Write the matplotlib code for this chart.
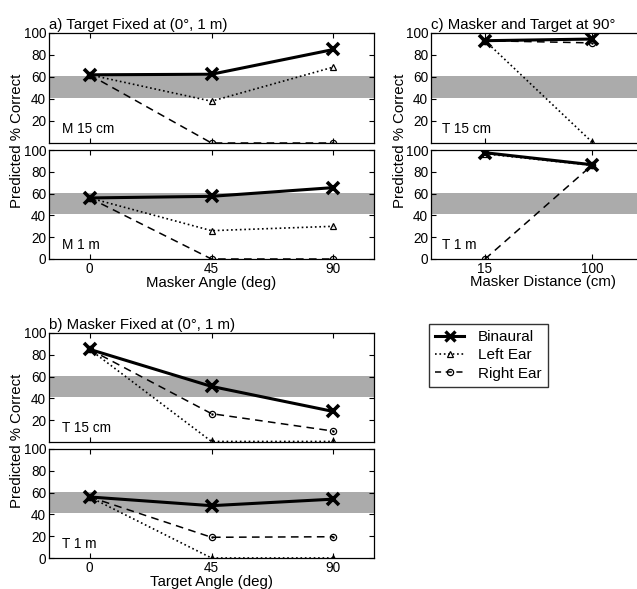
### Predicted % correct for binaural / left ear / right ear listening, three conditions

import numpy as np
import matplotlib.pyplot as plt
from matplotlib.lines import Line2D

plt.rcParams['font.family'] = ['Liberation Sans', 'DejaVu Sans']

# panel a) target fixed at (0 deg, 1 m), x = masker angle
masker_angle = [0, 45, 90]
a_m15_binaural = [62, 62.5, 85]
a_m15_left = [62, 38, 69]
a_m15_right = [62, 0, 0]
a_m1_binaural = [56, 57.5, 65.5]
a_m1_left = [56, 26, 30]
a_m1_right = [56, 0, 0]

# panel b) masker fixed at (0 deg, 1 m), x = target angle
target_angle = [0, 45, 90]
b_t15_binaural = [85, 51, 28]
b_t15_left = [85, 0.5, 0.5]
b_t15_right = [85, 26, 10]
b_t1_binaural = [56, 48, 54]
b_t1_left = [56, 0, 0]
b_t1_right = [56, 19, 19.5]

# panel c) masker and target at 90 deg, x = masker distance
masker_dist = [15, 100]
c_t15_binaural = [93, 94.5]
c_t15_left = [93, 1]
c_t15_right = [93, 91]
c_t1_binaural = [97.5, 86.5]
c_t1_left = [96.5, 86]
c_t1_right = [0, 86]

W, H = 637, 589
LABEL_FS = 10.8


def px_axes(fig, l, t, r, b):
    return fig.add_axes([l / W, 1 - b / H, (r - l) / W, (b - t) / H])


def panel(ax, x, binaural, left, right, label, xticks, xlim, show_xlabels, show_zero):
    ax.axhspan(41, 61, color='#ababab', lw=0, zorder=0)
    ax.plot(x, right, '--', color='black', lw=1.1, marker='o', ms=4.5,
            mfc='none', mew=0.9, dashes=(5, 3.5), zorder=2)
    ax.plot(x, right, ls='none', color='black', marker='.', ms=1.5, zorder=2)
    ax.plot(x, left, ':', color='black', lw=1.2, marker='^', ms=5,
            mfc='none', mew=0.9, zorder=3)
    ax.plot(x, binaural, '-', color='black', lw=2.2, marker='x', ms=8,
            mew=2.6, zorder=4)
    ax.set_xlim(xlim)
    ax.set_ylim(0, 100)
    ax.set_xticks(xticks)
    if show_zero:
        ax.set_yticks([0, 20, 40, 60, 80, 100])
    else:
        ax.set_yticks([20, 40, 60, 80, 100])
    ax.tick_params(direction='in', top=True, right=True, length=3.5,
                   width=0.8, labelsize=9.8, pad=2)
    if not show_xlabels:
        ax.set_xticklabels([])
    for s in ax.spines.values():
        s.set_linewidth(0.9)
    ax.text(0.04, 0.06, label, transform=ax.transAxes, fontsize=9.8,
            ha='left', va='bottom')


def main():
    fig = plt.figure(figsize=(W / 100, H / 100), dpi=100)

    # a)
    ax1 = px_axes(fig, 49, 33, 374, 143)
    panel(ax1, masker_angle, a_m15_binaural, a_m15_left, a_m15_right,
          'M 15 cm', [0, 45, 90], (-15, 105), False, False)
    ax1.set_title('a) Target Fixed at (0°, 1 m)', loc='left', fontsize=LABEL_FS, pad=3)
    ax2 = px_axes(fig, 49, 150, 374, 259)
    panel(ax2, masker_angle, a_m1_binaural, a_m1_left, a_m1_right,
          'M 1 m', [0, 45, 90], (-15, 105), True, True)
    ax2.set_xlabel('Masker Angle (deg)', fontsize=LABEL_FS, labelpad=0)
    fig.text(17 / W, 1 - 141 / H, 'Predicted % Correct', rotation=90,
             ha='center', va='center', fontsize=LABEL_FS)

    # c)
    ax3 = px_axes(fig, 431, 33, 700, 143)
    panel(ax3, masker_dist, c_t15_binaural, c_t15_left, c_t15_right,
          'T 15 cm', [15, 100], (-28, 186), False, False)
    ax3.set_title('c) Masker and Target at 90°', loc='left', fontsize=LABEL_FS, pad=3)
    ax4 = px_axes(fig, 431, 150, 700, 259)
    panel(ax4, masker_dist, c_t1_binaural, c_t1_left, c_t1_right,
          'T 1 m', [15, 100], (-28, 186), True, True)
    ax4.set_xlabel('Masker Distance (cm)', fontsize=LABEL_FS, labelpad=0)
    ax4.xaxis.set_label_coords((543 - 431) / (700 - 431), -0.21)
    ax4.xaxis.label.set_va('center')
    fig.text(400 / W, 1 - 141 / H, 'Predicted % Correct', rotation=90,
             ha='center', va='center', fontsize=LABEL_FS)

    # b)
    ax5 = px_axes(fig, 49, 333, 374, 442)
    panel(ax5, target_angle, b_t15_binaural, b_t15_left, b_t15_right,
          'T 15 cm', [0, 45, 90], (-15, 105), False, False)
    ax5.set_title('b) Masker Fixed at (0°, 1 m)', loc='left', fontsize=LABEL_FS, pad=3)
    ax6 = px_axes(fig, 49, 449, 374, 558)
    panel(ax6, target_angle, b_t1_binaural, b_t1_left, b_t1_right,
          'T 1 m', [0, 45, 90], (-15, 105), True, True)
    ax6.set_xlabel('Target Angle (deg)', fontsize=LABEL_FS, labelpad=0)
    fig.text(17 / W, 1 - 441 / H, 'Predicted % Correct', rotation=90,
             ha='center', va='center', fontsize=LABEL_FS)

    handles = [
        Line2D([], [], color='black', ls='-', lw=2.2, marker='x', ms=6.5, mew=2.4),
        Line2D([], [], color='black', ls=':', lw=1.2, marker='^', ms=5, mfc='none', mew=0.9),
        Line2D([], [], color='black', ls='--', lw=1.1, marker='o', ms=4.5, mfc='none',
               mew=0.9, dashes=(4, 3)),
    ]
    leg = fig.legend(handles, ['Binaural', 'Left Ear', 'Right Ear'],
                     loc='upper left', bbox_to_anchor=(429 / W, 1 - 324 / H),
                     fontsize=11, frameon=True, fancybox=False, handlelength=1.9,
                     borderpad=0.4, labelspacing=0.28, handletextpad=0.9,
                     borderaxespad=0)
    leg.get_frame().set_edgecolor('black')
    leg.get_frame().set_linewidth(1.0)

    fig.savefig('out.png', dpi=100)
    plt.close(fig)
    return "Saved out.png"


if __name__ == "__main__":
    status = main()
    print(status)
